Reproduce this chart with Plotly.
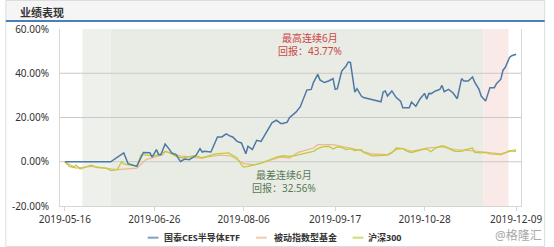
import plotly.graph_objects as go

# ---------------- data ----------------
etf_dates = ["2019-05-16", "2019-06-06", "2019-06-12", "2019-06-14", "2019-06-18", "2019-06-21",
             "2019-06-24", "2019-06-25", "2019-06-27", "2019-06-28", "2019-06-29", "2019-07-01",
             "2019-07-03", "2019-07-04", "2019-07-06", "2019-07-08", "2019-07-10", "2019-07-12",
             "2019-07-15", "2019-07-17", "2019-07-18", "2019-07-19", "2019-07-22", "2019-07-25",
             "2019-07-27", "2019-07-29", "2019-07-31", "2019-08-01", "2019-08-03", "2019-08-05",
             "2019-08-07", "2019-08-08", "2019-08-10", "2019-08-12", "2019-08-14", "2019-08-18",
             "2019-08-19", "2019-08-21", "2019-08-23", "2019-08-24", "2019-08-26", "2019-08-27",
             "2019-08-28", "2019-08-29", "2019-08-30", "2019-09-01", "2019-09-02", "2019-09-04",
             "2019-09-06", "2019-09-07", "2019-09-09", "2019-09-10", "2019-09-12", "2019-09-14",
             "2019-09-16", "2019-09-17", "2019-09-18", "2019-09-20", "2019-09-22", "2019-09-23",
             "2019-09-24", "2019-09-26", "2019-09-27", "2019-09-29", "2019-09-30", "2019-10-08",
             "2019-10-09", "2019-10-10", "2019-10-11", "2019-10-13", "2019-10-15", "2019-10-17",
             "2019-10-18", "2019-10-21", "2019-10-22", "2019-10-24", "2019-10-26", "2019-10-28",
             "2019-10-29", "2019-10-30", "2019-10-31", "2019-11-02", "2019-11-04", "2019-11-05",
             "2019-11-06", "2019-11-08", "2019-11-10", "2019-11-12", "2019-11-14", "2019-11-15",
             "2019-11-17", "2019-11-19", "2019-11-20", "2019-11-22", "2019-11-23", "2019-11-25",
             "2019-11-27", "2019-11-29", "2019-11-30", "2019-12-02", "2019-12-03", "2019-12-04",
             "2019-12-06", "2019-12-07", "2019-12-09"]
etf_values = [0.0, 0.0, 4.0, -0.9, -2.1, 4.2,
              4.1, 2.1, 5.5, 3.2, 3.2, 8.0,
              5.5, 4.0, 3.2, 0.1, 1.2, 0.9,
              2.7, 5.9, 4.4, 4.7, 4.4, 11.2,
              11.2, 12.6, 11.5, 11.2, 9.2, 8.5,
              3.6, 7.0, 5.5, 9.7, 9.2, 16.0,
              17.6, 18.8, 17.3, 17.3, 17.9, 19.9,
              20.6, 21.4, 22.4, 24.9, 27.4, 32.4,
              32.7, 35.8, 39.5, 37.0, 35.8, 36.5,
              37.6, 32.7, 33.0, 41.0, 43.3, 45.1,
              44.9, 31.5, 33.0, 29.7, 29.0, 27.1,
              31.5, 32.0, 29.7, 32.0, 29.0, 27.4,
              24.4, 24.4, 27.0, 25.1, 28.5, 30.9,
              28.2, 30.9, 30.8, 32.0, 32.7, 34.5,
              31.7, 32.7, 31.2, 28.5, 37.6, 36.5,
              36.5, 38.3, 36.0, 32.7, 29.7, 27.4,
              33.5, 33.5, 35.3, 37.3, 41.4, 42.6,
              47.1, 47.9, 48.6]

fund_dates = ["2019-05-16", "2019-05-21", "2019-05-28", "2019-06-09", "2019-06-18", "2019-06-22",
              "2019-06-30", "2019-07-01", "2019-07-06", "2019-07-08", "2019-07-17", "2019-07-26",
              "2019-07-31", "2019-08-06", "2019-08-11", "2019-08-18", "2019-08-23", "2019-08-27",
              "2019-08-31", "2019-09-07", "2019-09-09", "2019-09-16", "2019-09-20", "2019-09-27",
              "2019-10-04", "2019-10-11", "2019-10-15", "2019-10-18", "2019-10-22", "2019-10-29",
              "2019-11-05", "2019-11-11", "2019-11-18", "2019-11-25", "2019-12-02", "2019-12-09"]
fund_values = [0.0, -2.9, -2.1, -3.6, -2.9, 0.9,
               3.2, 4.7, 3.2, 2.7, 1.7, 3.0,
               2.7, -0.9, -1.4, 0.6, 2.1, 1.7,
               4.2, 6.2, 7.7, 7.7, 7.0, 5.5,
               3.5, 3.2, 5.5, 6.0, 4.7, 6.2,
               6.7, 5.5, 5.0, 4.4, 3.6, 5.5]

hs300_dates = ["2019-05-16", "2019-05-18", "2019-05-20", "2019-05-21", "2019-05-23", "2019-05-25",
               "2019-05-28", "2019-05-31", "2019-06-04", "2019-06-06", "2019-06-09", "2019-06-11",
               "2019-06-12", "2019-06-15", "2019-06-18", "2019-06-20", "2019-06-24", "2019-06-26",
               "2019-06-29", "2019-07-01", "2019-07-03", "2019-07-06", "2019-07-09", "2019-07-12",
               "2019-07-15", "2019-07-18", "2019-07-21", "2019-07-24", "2019-07-30", "2019-08-03",
               "2019-08-05", "2019-08-06", "2019-08-08", "2019-08-11", "2019-08-14", "2019-08-18",
               "2019-08-21", "2019-08-24", "2019-08-27", "2019-08-29", "2019-09-02", "2019-09-07",
               "2019-09-09", "2019-09-11", "2019-09-14", "2019-09-16", "2019-09-18", "2019-09-20",
               "2019-09-22", "2019-09-24", "2019-09-26", "2019-09-29", "2019-09-30", "2019-10-04",
               "2019-10-11", "2019-10-13", "2019-10-15", "2019-10-18", "2019-10-20", "2019-10-22",
               "2019-10-27", "2019-10-29", "2019-10-31", "2019-11-02", "2019-11-05", "2019-11-07",
               "2019-11-09", "2019-11-11", "2019-11-14", "2019-11-16", "2019-11-19", "2019-11-20",
               "2019-11-23", "2019-11-25", "2019-11-27", "2019-11-30", "2019-12-02", "2019-12-04",
               "2019-12-06", "2019-12-09"]
hs300_values = [0.0, -2.1, -2.6, -1.5, -3.3, -2.6,
                -1.5, -2.6, -2.9, -4.0, -3.6, 0.0,
                -1.0, -1.5, -1.8, 3.2, 2.7, 2.7,
                3.6, 4.7, 4.0, 2.4, 1.7, 2.4,
                2.9, 1.7, 2.7, 3.6, 4.0, 1.7,
                -1.4, -2.4, -2.1, -1.4, -0.6, 0.9,
                2.1, 2.7, 2.4, 2.7, 3.5, 4.7,
                5.9, 6.7, 7.0, 5.8, 6.7, 6.5,
                5.5, 5.9, 5.1, 5.5, 4.2, 2.7,
                3.0, 4.0, 6.2, 5.9, 4.7, 4.2,
                5.5, 5.8, 4.5, 6.2, 7.3, 6.7,
                5.5, 4.7, 4.7, 5.5, 6.2, 4.2,
                4.0, 4.2, 3.6, 3.2, 3.2, 4.0,
                5.0, 4.7]

series_names = ["国泰CES半导体ETF", "被动指数型基金", "沪深300"]
series_colors = ["#4E78A6", "#F3B687", "#BCCD3C"]
series_widths = [1.5, 1.3, 1.3]

x_tick_vals = ["2019-05-16", "2019-06-26", "2019-08-06", "2019-09-17", "2019-10-28", "2019-12-09"]
y_tick_vals = [-20, 0, 20, 40, 60]
y_tick_text = ["-20.00%", "0.00%", "20.00%", "40.00%", "60.00%"]

# shaded periods
light_zone = ["2019-05-24", "2019-06-06"]
worst_zone = ["2019-06-06", "2019-11-24"]
best_zone = ["2019-11-24", "2019-12-05 12:00"]

title_text = "业绩表现"
best_text = "最高连续6月<br>回报：43.77%"
worst_text = "最差连续6月<br>回报：32.56%"
watermark = "@格隆汇"

FONT = "Noto Sans, Noto Sans CJK SC, sans-serif"

fig = go.Figure()
all_dates = [etf_dates, fund_dates, hs300_dates]
all_vals = [etf_values, fund_values, hs300_values]
# draw order: orange, green, blue on top
for i in [1, 2, 0]:
    fig.add_trace(go.Scatter(x=all_dates[i], y=all_vals[i], mode="lines", name=series_names[i],
                             line=dict(color=series_colors[i], width=series_widths[i]),
                             hoverinfo="skip", showlegend=False))

shapes = []
# header band and outer frame
shapes.append(dict(type="rect", xref="paper", yref="paper", x0=-0.1175, x1=1.0513,
                   y0=1.045, y1=1.161, fillcolor="#F5F5F5", line=dict(width=0), layer="below"))
shapes.append(dict(type="rect", xref="paper", yref="paper", x0=-0.1175, x1=1.0513,
                   y0=-0.2288, y1=1.161, line=dict(color="#DDDDDD", width=1), layer="below"))
for zone, col in [(light_zone, "#EEF1EB"), (worst_zone, "#E9ECE4"), (best_zone, "#F9EAE8")]:
    shapes.append(dict(type="rect", xref="x", yref="paper", x0=zone[0], x1=zone[1], y0=0, y1=1,
                       fillcolor=col, line=dict(width=0), layer="below"))
for v in y_tick_vals[1:-1]:
    shapes.append(dict(type="line", xref="paper", yref="y", x0=0, x1=1, y0=v, y1=v,
                       line=dict(color="#C9C9C9", width=1), layer="between"))
shapes.append(dict(type="line", xref="paper", yref="paper", x0=-0.1175, x1=1.0513,
                   y0=1.045, y1=1.045, line=dict(color="#4A7EBB", width=2)))

annotations = [
    dict(text=f"<b>{title_text}</b>", xref="paper", yref="paper", x=-0.0919, y=1.096,
         xanchor="left", yanchor="middle", showarrow=False,
         font=dict(family=FONT, size=11, color="#333333")),
    dict(text=best_text, xref="paper", yref="paper", x=0.5427, y=0.915, xanchor="center",
         yanchor="middle", showarrow=False, align="center",
         font=dict(family=FONT, size=10, color="#CC4646")),
    dict(text=worst_text, xref="paper", yref="paper", x=0.485, y=0.138, xanchor="center",
         yanchor="middle", showarrow=False, align="center",
         font=dict(family=FONT, size=10, color="#587A58")),
    dict(text=watermark, xref="paper", yref="paper", x=1.049, y=-0.166, xanchor="right",
         yanchor="middle", showarrow=False, font=dict(family=FONT, size=12, color="#A8A8A8")),
]

# custom legend
leg_line_x = [(0.1902, 0.2137), (0.4252, 0.4487), (0.6346, 0.6581)]
leg_text_x = [0.2222, 0.4594, 0.6645]
leg_y = -0.179
for i in range(3):
    shapes.append(dict(type="line", xref="paper", yref="paper", x0=leg_line_x[i][0],
                       x1=leg_line_x[i][1], y0=leg_y, y1=leg_y, opacity=0.7,
                       line=dict(color=series_colors[i], width=2)))
    annotations.append(dict(text=f"<b>{series_names[i]}</b>", xref="paper", yref="paper",
                            x=leg_text_x[i], y=leg_y, xanchor="left", yanchor="middle",
                            showarrow=False, font=dict(family=FONT, size=9, color="#333333")))

fig.update_layout(
    width=554, height=247,
    margin=dict(l=58, r=28, t=29, b=41),
    paper_bgcolor="white", plot_bgcolor="white",
    shapes=shapes, annotations=annotations,
    showlegend=False,
    font=dict(family=FONT, size=10, color="#333333"),
    xaxis=dict(type="date", range=["2019-05-13 18:00", "2019-12-11 06:00"],
               tickvals=x_tick_vals, tickformat="%Y-%m-%d", showgrid=False,
               showline=True, linecolor="#D6D6D6", linewidth=1,
               ticks="outside", ticklen=4, tickcolor="#D6D6D6",
               tickfont=dict(family=FONT, size=10, color="#333333"), zeroline=False),
    yaxis=dict(range=[-20, 60], tickvals=y_tick_vals, ticktext=y_tick_text, showgrid=False,
               zeroline=False, showline=True, mirror=True, linecolor="#D6D6D6", linewidth=1,
               ticks="", ticklabelstandoff=8,
               tickfont=dict(family=FONT, size=10, color="#333333")),
)

fig.write_html("out.html")
